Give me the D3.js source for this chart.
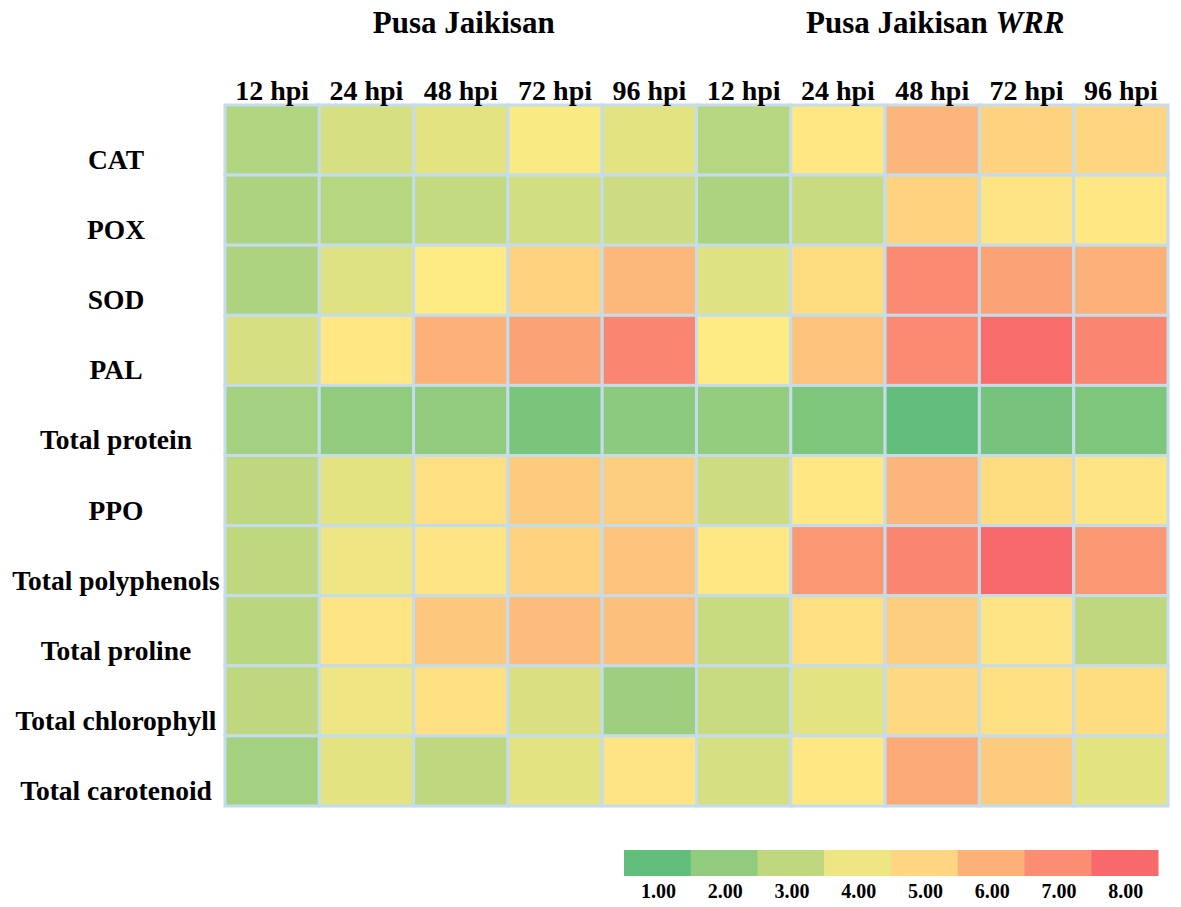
<!DOCTYPE html>
<html>
<head>
<meta charset="utf-8">
<script src="https://cdn.jsdelivr.net/npm/d3@7"></script>
<style>
  html, body { margin: 0; padding: 0; background: #fff; }
  text { font-family: "Liberation Serif", "Times New Roman", serif; font-weight: bold; fill: #000; }
</style>
</head>
<body>
<div id="chart"></div>
<script>
// ---------------------------------------------------------------------------
// Data
const groups = ['Pusa Jaikisan', 'Pusa Jaikisan WRR'];
const timepoints = ['12 hpi', '24 hpi', '48 hpi', '72 hpi', '96 hpi'];
const traits = ['CAT', 'POX', 'SOD', 'PAL', 'Total protein', 'PPO',
  'Total polyphenols', 'Total proline', 'Total chlorophyll', 'Total carotenoid'];

// one row per trait, 5 values for Pusa Jaikisan then 5 for Pusa Jaikisan WRR
const valCAT = [2.7, 3.5, 3.8, 4.3, 3.8, 2.8, 4.5, 5.9, 5.1, 5.0];
const valPOX = [2.6, 2.8, 3.1, 3.4, 3.3, 2.6, 3.2, 5.1, 4.6, 4.5];
const valSOD = [2.6, 3.7, 4.4, 5.1, 5.8, 3.7, 4.8, 7.1, 6.4, 6.0];
const valPAL = [3.5, 4.5, 6.0, 6.4, 7.2, 4.4, 5.5, 7.1, 7.9, 7.2];
const valProtein = [2.4, 2.0, 2.0, 1.5, 1.9, 2.1, 1.6, 1.0, 1.4, 1.6];
const valPPO = [3.0, 3.8, 4.7, 5.3, 5.2, 3.3, 4.5, 5.9, 4.8, 4.6];
const valPolyphenols = [3.0, 4.0, 4.6, 5.1, 5.5, 4.5, 6.7, 7.2, 8.0, 6.7];
const valProline = [2.9, 4.6, 5.4, 5.7, 5.6, 3.2, 4.7, 5.2, 4.6, 3.0];
const valChlorophyll = [3.0, 4.0, 4.7, 3.6, 2.3, 3.2, 3.8, 4.9, 4.7, 4.8];
const valCarotenoid = [2.4, 3.8, 3.0, 3.8, 4.6, 3.5, 4.5, 6.2, 5.3, 3.8];

const legendTicks = [1, 2, 3, 4, 5, 6, 7, 8];

const rows = [valCAT, valPOX, valSOD, valPAL, valProtein, valPPO,
  valPolyphenols, valProline, valChlorophyll, valCarotenoid];

// ---------------------------------------------------------------------------
// Layout
const width = 1181;
const height = 907;
const grid = { left: 225, top: 105, right: 1168, bottom: 806 };

const columns = [];
groups.forEach((g, gi) => timepoints.forEach(t => columns.push(`${gi}|${t}`)));

const x = d3.scaleBand().domain(columns).range([grid.left, grid.right]);
const y = d3.scaleBand().domain(traits).range([grid.top, grid.bottom]);

// green - yellow - red, same as a 3 colour spreadsheet scale
const color = d3.scaleLinear()
  .domain([1, 4.4, 8])
  .range(['#63be7b', '#ffeb84', '#f8696b'])
  .interpolate(d3.interpolateRgb);

const svg = d3.select('#chart').append('svg')
  .attr('width', width)
  .attr('height', height);

// cells
const cells = [];
rows.forEach((vals, ri) => {
  vals.forEach((v, ci) => cells.push({ trait: traits[ri], col: columns[ci], value: v }));
});

svg.append('g').attr('id', 'cells')
  .selectAll('rect')
  .data(cells)
  .enter()
  .append('rect')
  .attr('x', d => x(d.col))
  .attr('y', d => y(d.trait))
  .attr('width', x.bandwidth())
  .attr('height', y.bandwidth())
  .attr('fill', d => color(d.value))
  .attr('stroke', '#c4dcec')
  .attr('stroke-width', 3);

// group titles
const titleGroup = svg.append('g').attr('id', 'titles');
groups.forEach((g, gi) => {
  const first = x(`${gi}|${timepoints[0]}`);
  const last = x(`${gi}|${timepoints[timepoints.length - 1]}`) + x.bandwidth();
  const t = titleGroup.append('text')
    .attr('x', (first + last) / 2 + 3)
    .attr('y', 33)
    .attr('text-anchor', 'middle')
    .style('font-size', '31px');
  if (g.endsWith('WRR')) {
    t.append('tspan').text('Pusa Jaikisan ');
    t.append('tspan').style('font-style', 'italic').text('WRR');
  } else {
    t.text(g);
  }
});

// column labels
svg.append('g').attr('id', 'col-labels')
  .selectAll('text')
  .data(columns)
  .enter()
  .append('text')
  .attr('x', d => x(d) + x.bandwidth() / 2)
  .attr('y', 100)
  .attr('text-anchor', 'middle')
  .style('font-size', '28px')
  .text(d => d.split('|')[1]);

// row labels
svg.append('g').attr('id', 'row-labels')
  .selectAll('text')
  .data(traits)
  .enter()
  .append('text')
  .attr('x', 116)
  .attr('y', d => y(d) + y.bandwidth() / 2 + 29)
  .attr('text-anchor', 'middle')
  .style('font-size', '27.5px')
  .text(d => d);

// legend
const lx = d3.scaleBand().domain(legendTicks).range([624, 1158]);
const legend = svg.append('g').attr('id', 'legend');
legend.selectAll('rect')
  .data(legendTicks)
  .enter()
  .append('rect')
  .attr('x', d => lx(d))
  .attr('y', 850)
  .attr('width', lx.bandwidth() + 0.5)
  .attr('height', 26)
  .attr('fill', d => color(d));
legend.selectAll('text')
  .data(legendTicks)
  .enter()
  .append('text')
  .attr('x', d => lx(d) + lx.bandwidth() / 2 + 1)
  .attr('y', 898)
  .attr('text-anchor', 'middle')
  .style('font-size', '20px')
  .text(d => d.toFixed(2));
</script>
</body>
</html>
